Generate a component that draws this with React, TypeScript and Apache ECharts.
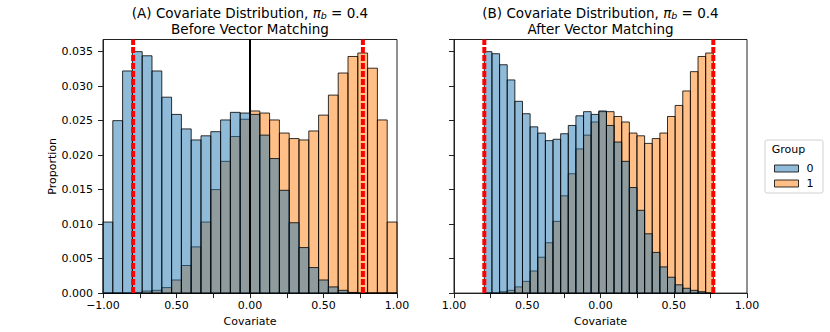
import React, { useEffect, useRef } from 'react';
import * as echarts from 'echarts';

// Histogram bins
const leftBinStart = -1;
const leftBinEnd = 1;
const rightBinStart = -0.793;
const rightBinEnd = 0.77;
const binCount = 30;

// Panel A (before matching): proportion per bin
const leftGroup0 = [
  0.0103, 0.0250, 0.0322, 0.0350, 0.0344, 0.0322, 0.0284, 0.0259, 0.0238, 0.0222,
  0.0228, 0.0234, 0.0251, 0.0262, 0.0261, 0.0259, 0.0229, 0.0195, 0.0149, 0.0102,
  0.0066, 0.0037, 0.0019, 0.0009, 0.0004, 0.0001, 0.0000, 0.0000, 0.0000, 0.0000,
];
const leftGroup1 = [
  0.0000, 0.0000, 0.0000, 0.0001, 0.0003, 0.0004, 0.0008, 0.0019, 0.0040, 0.0067,
  0.0103, 0.0150, 0.0191, 0.0227, 0.0252, 0.0264, 0.0261, 0.0251, 0.0232, 0.0224,
  0.0222, 0.0235, 0.0258, 0.0287, 0.0319, 0.0343, 0.0348, 0.0326, 0.0251, 0.0103,
];

// Panel B (after matching)
const rightGroup0 = [
  0.0350, 0.0347, 0.0331, 0.0309, 0.0278, 0.0260, 0.0241, 0.0232, 0.0221, 0.0223,
  0.0231, 0.0243, 0.0257, 0.0263, 0.0259, 0.0264, 0.0243, 0.0219, 0.0191, 0.0153,
  0.0120, 0.0086, 0.0059, 0.0038, 0.0023, 0.0012, 0.0007, 0.0004, 0.0002, 0.0000,
];
const rightGroup1 = [
  0.0000, 0.0000, 0.0002, 0.0004, 0.0009, 0.0017, 0.0032, 0.0052, 0.0073, 0.0104,
  0.0141, 0.0173, 0.0209, 0.0229, 0.0248, 0.0263, 0.0263, 0.0256, 0.0248, 0.0232,
  0.0228, 0.0217, 0.0224, 0.0232, 0.0256, 0.0272, 0.0293, 0.0321, 0.0343, 0.0348,
];

// Reference lines
const leftCutoffs = [-0.795, 0.768];
const rightCutoffs = [-0.793, 0.77];
const centerLine = 0;

// Axes
const yMax = 0.03676;
const yInterval = 0.005;
const yTickMax = 0.035;
const xTickValues = [-1, -0.5, 0, 0.5, 1];
const leftXTickLabels = ['\u22121.00', '0.50', '0.00', '0.50', '1.00'];
const rightXTickLabels = ['1.00', '0.50', '0.00', '0.50', '1.00'];
const groupNames = ['0', '1'];

const BLUE = 'rgba(31,119,180,0.5)';
const ORANGE = 'rgba(255,127,14,0.5)';
const EDGE = 'rgba(0,0,0,0.8)';
const FONT = 'DejaVu Sans';

function toBins(values: number[], start: number, end: number) {
  const w = (end - start) / binCount;
  return values.map((v, i) => [start + i * w, start + (i + 1) * w, v]);
}

const renderBar = (params: any, api: any) => {
  const p0 = api.coord([api.value(0), api.value(2)]);
  const p1 = api.coord([api.value(1), 0]);
  return {
    type: 'rect',
    shape: { x: p0[0], y: p0[1], width: p1[0] - p0[0], height: p1[1] - p0[1] },
    style: api.style(),
  };
};

export default function App() {
  const ref = useRef<HTMLDivElement>(null);
  useEffect(() => {
    if (!ref.current) return;
    const chart = echarts.init(ref.current, undefined, { renderer: 'svg' });

    const xLabelFmt = (labels: string[]) => (v: number) => {
      const i = xTickValues.findIndex((t) => Math.abs(t - v) < 1e-9);
      return i >= 0 ? labels[i] : '';
    };
    const yLabelFmt = (v: number) => {
      const k = v / yInterval;
      if (Math.abs(k - Math.round(k)) < 1e-6 && v <= yTickMax + 1e-9) return v.toFixed(3);
      return '';
    };
    const axisCommon = {
      axisLine: { show: true, onZero: false, lineStyle: { color: '#222', width: 1 } },
      axisTick: { show: true, length: 5, lineStyle: { color: '#222', width: 1 } },
      splitLine: { show: false },
    };
    const xAxis = (idx: number, labels: string[]) => ({
      type: 'value',
      gridIndex: idx,
      min: -1,
      max: 1,
      interval: 0.25,
      ...axisCommon,
      axisLabel: { formatter: xLabelFmt(labels), fontFamily: FONT, fontSize: 11, color: '#000', margin: 7, showMinLabel: true, showMaxLabel: true },
      name: 'Covariate',
      nameLocation: 'middle',
      nameGap: 21,
      nameTextStyle: { fontFamily: FONT, fontSize: 11, color: '#000' },
    });
    const yAxis = (idx: number, showLabels: boolean) => ({
      type: 'value',
      gridIndex: idx,
      min: 0,
      max: yMax,
      interval: yInterval,
      ...axisCommon,
      axisLabel: { show: showLabels, formatter: yLabelFmt, fontFamily: FONT, fontSize: 11, color: '#000', margin: 10, showMaxLabel: false },
      name: showLabels ? 'Proportion' : '',
      nameLocation: 'middle',
      nameGap: 45,
      nameTextStyle: { fontFamily: FONT, fontSize: 11, color: '#000' },
    });

    const histSeries = (name: string, color: string, data: number[][], idx: number, z: number) => ({
      type: 'custom',
      name,
      xAxisIndex: idx,
      yAxisIndex: idx,
      renderItem: renderBar,
      encode: { x: [0, 1], y: 2 },
      itemStyle: { color, borderColor: EDGE, borderWidth: 1 },
      data,
      z,
      silent: true,
    });
    const vLine = (x: number, idx: number, color: string, width: number, type: any, z: number) => ({
      type: 'line',
      name: 'ref',
      xAxisIndex: idx,
      yAxisIndex: idx,
      data: [[x, 0], [x, yMax]],
      symbol: 'none',
      lineStyle: { color, width, type },
      z,
      silent: true,
    });

    const TITLE_SIZE = 13.5;
    const titleText = (x: number, l1: string, l2: string) => [
      {
        type: 'text',
        x,
        y: 12.5,
        style: {
          text: l1 + ' {pi|\u03c0}{sub|b} = 0.4',
          align: 'center',
          verticalAlign: 'middle',
          fontFamily: FONT,
          fontSize: TITLE_SIZE,
          fill: '#000',
          rich: {
            pi: { fontFamily: FONT, fontStyle: 'italic', fontSize: TITLE_SIZE, fill: '#000' },
            sub: { fontFamily: FONT, fontStyle: 'italic', fontSize: 9.5, fill: '#000', padding: [6, 0, 0, 0] },
          },
        },
      },
      {
        type: 'text',
        x,
        y: 28.5,
        style: { text: l2, align: 'center', verticalAlign: 'middle', fontFamily: FONT, fontSize: TITLE_SIZE, fill: '#000' },
      },
    ];

    const option: any = {
      animation: false,
      backgroundColor: '#fff',
      grid: [
        { left: 103, top: 39.5, width: 294, height: 255.5, show: true, borderColor: '#222', borderWidth: 1, containLabel: false },
        { left: 454, top: 39.5, width: 293, height: 255.5, show: true, borderColor: '#222', borderWidth: 1, containLabel: false },
      ],
      xAxis: [xAxis(0, leftXTickLabels), xAxis(1, rightXTickLabels)],
      yAxis: [yAxis(0, true), yAxis(1, false)],
      legend: {
        data: [
          { name: groupNames[0], itemStyle: { color: BLUE, borderColor: EDGE, borderWidth: 1 } },
          { name: groupNames[1], itemStyle: { color: ORANGE, borderColor: EDGE, borderWidth: 1 } },
        ],
        orient: 'vertical',
        left: 769,
        top: 158,
        icon: 'rect',
        itemWidth: 24,
        itemHeight: 7,
        itemGap: 4,
        selectedMode: false,
        textStyle: { fontFamily: FONT, fontSize: 11, color: '#000', padding: [0, 0, 0, 3] },
        z: 10,
      },
      graphic: [
        { type: 'rect', shape: { x: 765, y: 140, width: 58, height: 53, r: 2 }, style: { fill: 'rgba(255,255,255,0.8)', stroke: '#d0d0d0', lineWidth: 1 }, z: 1 },
        { type: 'text', x: 788.5, y: 149, style: { text: 'Group', align: 'center', verticalAlign: 'middle', fontFamily: FONT, fontSize: 11, fill: '#000' }, z: 2 },
        ...titleText(250, '(A) Covariate Distribution,', 'Before Vector Matching'),
        ...titleText(600.5, '(B) Covariate Distribution,', 'After Vector Matching'),
      ],
      series: [
        histSeries(groupNames[1], ORANGE, toBins(leftGroup1, leftBinStart, leftBinEnd), 0, 2),
        histSeries(groupNames[0], BLUE, toBins(leftGroup0, leftBinStart, leftBinEnd), 0, 3),
        histSeries(groupNames[1], ORANGE, toBins(rightGroup1, rightBinStart, rightBinEnd), 1, 2),
        histSeries(groupNames[0], BLUE, toBins(rightGroup0, rightBinStart, rightBinEnd), 1, 3),
        vLine(centerLine, 0, '#000', 2, 'solid', 4),
        ...leftCutoffs.map((c) => vLine(c, 0, '#ff0000', 4, [6, 2], 5)),
        ...rightCutoffs.map((c) => vLine(c, 1, '#ff0000', 4, [6, 2], 5)),
      ],
    };
    chart.setOption(option);
    return () => chart.dispose();
  }, []);
  return <div ref={ref} style={{ position: 'absolute', left: 0, top: 0, width: 830, height: 332 }} />;
}
